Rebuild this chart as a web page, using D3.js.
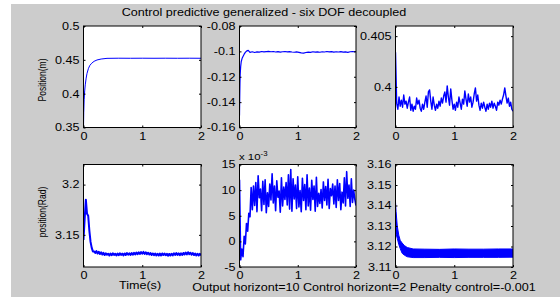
<!DOCTYPE html>
<html>
<head>
<meta charset="utf-8">
<script src="https://cdn.jsdelivr.net/npm/d3@7/dist/d3.min.js"></script>
<style>
body { margin: 0; background: #fff; }
svg text { font-family: "Liberation Sans", Arial, sans-serif; fill: #000; }
</style>
</head>
<body>
<svg id="fig" width="560" height="297"></svg>
<script>
// ======== Data ========
const titleText = 'Control predictive generalized - six DOF decoupled';
const footText = 'Output horizont=10 Control horizont=2 Penalty control=-0.001';
const xTicks = [0, 1, 2];

// top left - position (m)
const t1 = [0, 0.004, 0.011, 0.02, 0.03, 0.045, 0.06, 0.085, 0.11, 0.14, 0.18, 0.23, 0.3, 0.4, 0.6, 0.8, 1.0, 1.2, 1.4, 1.6, 1.8, 2.0];
const y1 = [0.35, 0.372, 0.391, 0.404, 0.413, 0.423, 0.430, 0.4375, 0.442, 0.445, 0.4478, 0.4498, 0.4512, 0.4522, 0.4524, 0.4523, 0.4524, 0.4523, 0.4524, 0.4523, 0.4524, 0.4523];
const ticks1 = [0.35, 0.4, 0.45, 0.5];

// top middle
const t2 = [0, 0.004, 0.008, 0.012, 0.02, 0.03, 0.045, 0.06, 0.08, 0.1, 0.12, 0.15,
  0.18, 0.22, 0.26, 0.3, 0.34, 0.38, 0.42, 0.46, 0.5, 0.54, 0.58, 0.62, 0.66, 0.7, 0.74, 0.78,
  0.82, 0.86, 0.9, 0.94, 0.98, 1.02, 1.06, 1.1, 1.14, 1.18, 1.22, 1.26, 1.3, 1.34, 1.38, 1.42,
  1.46, 1.5, 1.54, 1.58, 1.62, 1.66, 1.7, 1.74, 1.78, 1.82, 1.86, 1.9, 1.94, 1.98, 2.0];
const y2 = [-0.1505, -0.136, -0.125, -0.118, -0.112, -0.108, -0.1055, -0.104, -0.1022, -0.1008, -0.0998, -0.0992,
  -0.1008, -0.1003, -0.1009, -0.1004, -0.1006, -0.1001, -0.1004, -0.1002, -0.1000, -0.1003, -0.1001, -0.1005,
  -0.1002, -0.1006, -0.1003, -0.1001, -0.1004, -0.1002, -0.1005, -0.1007, -0.1004, -0.1008, -0.1012, -0.1014,
  -0.1009, -0.1006, -0.1008, -0.1003, -0.1006, -0.1004, -0.1007, -0.1003, -0.1005, -0.1001, -0.1004, -0.1002,
  -0.1006, -0.1003, -0.1005, -0.1002, -0.1006, -0.1004, -0.1008, -0.1003, -0.1001, -0.1003, -0.1001];
const ticks2 = [-0.16, -0.14, -0.12, -0.1, -0.08];

// sampled every 0.02 s
const dt = 0.02;

// top right
const y3 = [0.4034,
  0.3984, 0.3978, 0.3990, 0.3981, 0.3987, 0.3980, 0.3992, 0.3983, 0.3986, 0.3979,
  0.3985, 0.3990, 0.3977, 0.3983, 0.3976, 0.3981, 0.3978, 0.3989, 0.3983, 0.3987,
  0.3979, 0.3976, 0.3983, 0.3978, 0.3985, 0.3991, 0.3980, 0.3995, 0.3997, 0.3986,
  0.3978, 0.3990, 0.3982, 0.3977, 0.3983, 0.3979, 0.3986, 0.3981, 0.3989, 0.3984,
  0.3991, 0.3995, 0.3985, 0.4001, 0.3990, 0.3982, 0.3998, 0.3987, 0.3978, 0.3983,
  0.3977, 0.3985, 0.3980, 0.3990, 0.3984, 0.3978, 0.3988, 0.3983, 0.3996, 0.3988,
  0.3981, 0.3993, 0.3985, 0.3990, 0.3980, 0.3985, 0.3993, 0.3999, 0.3986, 0.3992,
  0.3982, 0.3977, 0.3984, 0.3979, 0.3985, 0.3980, 0.3976, 0.3983, 0.3978, 0.3984,
  0.3980, 0.3986, 0.3979, 0.3984, 0.3981, 0.3977, 0.3985, 0.3982, 0.3987, 0.3983,
  0.3988, 0.3992, 0.3999, 0.3991, 0.3984, 0.3989, 0.3981, 0.3985, 0.3978, 0.3976];
const ticks3 = [0.4, 0.405];

// bottom left - position (Rad)
const y4 = [3.145,
  3.166, 3.185, 3.171, 3.169, 3.154, 3.143, 3.137, 3.1335, 3.1335, 3.1320,
  3.1338, 3.1314, 3.1332, 3.1309, 3.1326, 3.1304, 3.1320, 3.1299, 3.1316, 3.1302,
  3.1312, 3.1294, 3.1314, 3.1297, 3.1316, 3.1300, 3.1312, 3.1295, 3.1314, 3.1298,
  3.1317, 3.1301, 3.1313, 3.1296, 3.1315, 3.1299, 3.1318, 3.1302, 3.1316, 3.1300,
  3.1319, 3.1303, 3.1321, 3.1306, 3.1324, 3.1308, 3.1326, 3.1310, 3.1329, 3.1312,
  3.1330, 3.1311, 3.1327, 3.1308, 3.1322, 3.1304, 3.1319, 3.1300, 3.1315, 3.1298,
  3.1314, 3.1296, 3.1312, 3.1294, 3.1313, 3.1295, 3.1315, 3.1299, 3.1314, 3.1297,
  3.1311, 3.1293, 3.1310, 3.1294, 3.1312, 3.1296, 3.1316, 3.1300, 3.1318, 3.1301,
  3.1315, 3.1298, 3.1317, 3.1300, 3.1320, 3.1304, 3.1323, 3.1306, 3.1327, 3.1308,
  3.1322, 3.1303, 3.1318, 3.1299, 3.1314, 3.1296, 3.1312, 3.1294, 3.1311, 3.1295];
const ticks4 = [3.15, 3.2];

// bottom middle (x 10^-3)
const y5 = [12,
  -3.6, -1.5, -3.0, 1.0, -0.5, 3.5, 2.0, 5.5, 4.8, 10.5,
  6.2, 10.8, 7.0, 11.5, 5.8, 12.8, 8.5, 10.2, 6.0, 11.7,
  7.2, 12.0, 5.6, 9.5, 6.8, 11.2, 8.1, 13.2, 7.5, 10.8,
  6.0, 11.8, 8.6, 9.8, 5.7, 12.4, 6.9, 10.6, 8.2, 11.5,
  7.1, 13.0, 6.3, 14.0, 5.9, 12.2, 8.3, 11.0, 6.4, 12.6,
  6.7, 9.9, 5.8, 12.3, 8.0, 11.1, 6.2, 13.0, 6.9, 10.4,
  6.1, 11.9, 8.2, 10.8, 5.9, 12.5, 6.8, 9.4, 7.4, 10.1,
  6.5, 11.6, 8.0, 10.7, 7.1, 12.1, 6.4, 10.3, 8.9, 11.2,
  7.3, 10.8, 6.6, 12.0, 8.0, 11.3, 6.2, 9.6, 7.5, 12.4,
  6.9, 13.6, 8.4, 11.0, 6.8, 12.2, 7.6, 10.0, 8.2, 7.0];
const ticks5 = [-5, 0, 5, 10, 15];

// bottom right - band of a fast oscillation (upper / lower envelope)
const t6 = [0, 0.01, 0.03, 0.056, 0.08, 0.113, 0.15, 0.2, 0.3, 0.5, 0.75, 1.0, 1.25, 1.5, 1.75, 2.0];
const hi6 = [3.1417, 3.137, 3.130, 3.1255, 3.123, 3.1217, 3.1205, 3.1195, 3.1188, 3.1187, 3.1186, 3.1188, 3.1187, 3.1187, 3.1188, 3.1188];
const lo6 = [3.128, 3.126, 3.124, 3.121, 3.119, 3.1167, 3.1158, 3.1150, 3.1146, 3.1146, 3.1147, 3.1146, 3.1147, 3.1147, 3.1147, 3.1148];
const ticks6 = [3.11, 3.12, 3.13, 3.14, 3.15, 3.16];

// ======== Layout ========
const svg = d3.select('#fig');
const sx = 1.2;      // text in the figure is stretched sideways
const blue = '#0000ff';

svg.append('rect').attr('x', 11).attr('y', 4).attr('width', 549).attr('height', 293).attr('fill', '#cccccc');

const cols = [[83.5, 201], [239.5, 356], [395.5, 513]];
const rows = [[26, 127.5], [164.5, 267]];

let clipId = 0;

function panel(col, row, yDomain, yTicks, fmt) {
  const [left, right] = cols[col];
  const [top, bottom] = rows[row];
  const x = d3.scaleLinear().domain([0, 2]).range([left, right]);
  const y = d3.scaleLinear().domain(yDomain).range([bottom, top]);

  svg.append('rect')
    .attr('x', left).attr('y', top)
    .attr('width', right - left).attr('height', bottom - top)
    .attr('fill', '#fff');

  const id = 'clip' + (clipId++);
  svg.append('clipPath').attr('id', id)
    .append('rect')
    .attr('x', left).attr('y', top)
    .attr('width', right - left).attr('height', bottom - top);
  const g = svg.append('g').attr('clip-path', 'url(#' + id + ')');

  // axes, ticks drawn inwards like matlab
  const left_ax = svg.append('g').attr('transform', 'translate(' + left + ',0)')
    .call(d3.axisLeft(y).tickValues(yTicks).tickSize(-2).tickPadding(5).tickFormat(fmt));
  const bottom_ax = svg.append('g').attr('transform', 'translate(0,' + bottom + ')')
    .call(d3.axisBottom(x).tickValues(xTicks).tickSize(-2).tickPadding(5).tickFormat(d3.format('d')));
  svg.append('g').attr('transform', 'translate(' + right + ',0)')
    .call(d3.axisRight(y).tickValues(yTicks).tickSize(-2).tickFormat(''));
  svg.append('g').attr('transform', 'translate(0,' + top + ')')
    .call(d3.axisTop(x).tickValues(xTicks).tickSize(-2).tickFormat(''));

  svg.selectAll('.domain').remove();
  svg.selectAll('.tick line').attr('stroke', '#000');

  left_ax.attr('font-size', null).attr('font-family', null);
  left_ax.selectAll('text')
    .attr('font-size', 10.5)
    .attr('x', -4 / sx)
    .attr('transform', 'scale(' + sx + ',1)');
  bottom_ax.attr('font-size', null).attr('font-family', null);
  bottom_ax.selectAll('text')
    .attr('font-size', 10.5)
    .attr('transform', 'scale(' + sx + ',1)');

  // frame
  svg.append('rect')
    .attr('x', left).attr('y', top)
    .attr('width', right - left).attr('height', bottom - top)
    .attr('fill', 'none').attr('stroke', '#000').attr('stroke-width', 1);

  return { x: x, y: y, g: g };
}

function drawLine(p, ts, vs, width) {
  const line = d3.line().x(function (d) { return p.x(d[0]); }).y(function (d) { return p.y(d[1]); });
  p.g.append('path')
    .datum(vs.map(function (v, i) { return [ts[i], v]; }))
    .attr('d', line)
    .attr('fill', 'none')
    .attr('stroke', blue)
    .attr('stroke-width', width)
    .attr('stroke-linejoin', 'round');
}

function sampled(vs) {
  return vs.map(function (v, i) { return i * dt; });
}

const fmtG = function (d) { return String(+d.toFixed(4)); };

let p1 = panel(0, 0, [0.35, 0.5], ticks1, fmtG);
drawLine(p1, t1, y1, 1);

let p2 = panel(1, 0, [-0.16, -0.08], ticks2, fmtG);
drawLine(p2, t2, y2, 1.2);

let p3 = panel(2, 0, [0.396, 0.406], ticks3, fmtG);
drawLine(p3, sampled(y3), y3, 1.4);

let p4 = panel(0, 1, [3.118, 3.22], ticks4, fmtG);
drawLine(p4, sampled(y4), y4, 2);

let p5 = panel(1, 1, [-5, 15], ticks5, fmtG);
drawLine(p5, sampled(y5), y5, 1.6);

let p6 = panel(2, 1, [3.11, 3.16], ticks6, fmtG);
const band = d3.area()
  .x(function (d) { return p6.x(d[0]); })
  .y0(function (d) { return p6.y(d[1]); })
  .y1(function (d) { return p6.y(d[2]); });
p6.g.append('path')
  .datum(t6.map(function (t, i) { return [t, lo6[i], hi6[i]]; }))
  .attr('d', band)
  .attr('fill', blue)
  .attr('stroke', blue)
  .attr('stroke-width', 1);

// ======== Texts ========
function label(x, y, txt, size, anchor) {
  return svg.append('text')
    .attr('transform', 'translate(' + x + ',' + y + ') scale(' + sx + ',1)')
    .attr('text-anchor', anchor || 'middle')
    .attr('font-size', size)
    .text(txt);
}

label(264, 15.5, titleText, 10.5);
label(140, 289, 'Time(s)', 10.5);
label(364, 291, footText, 10.5);

// multiplier of the bottom middle panel
const mult = svg.append('text')
  .attr('transform', 'translate(239,160) scale(' + sx + ',1)')
  .attr('font-size', 9.5);
mult.append('tspan').text('x 10');
mult.append('tspan').attr('font-size', 6.5).attr('dy', -4).text('-3');

// y labels, rotated
function ylabel(x, y, txt) {
  svg.append('text')
    .attr('transform', 'translate(' + x + ',' + y + ') rotate(-90) scale(1,' + sx + ')')
    .attr('text-anchor', 'middle')
    .attr('font-size', 8.5)
    .text(txt);
}
ylabel(46, 80, 'Position(m)');
ylabel(46, 212, 'position(Rad)');
</script>
</body>
</html>
